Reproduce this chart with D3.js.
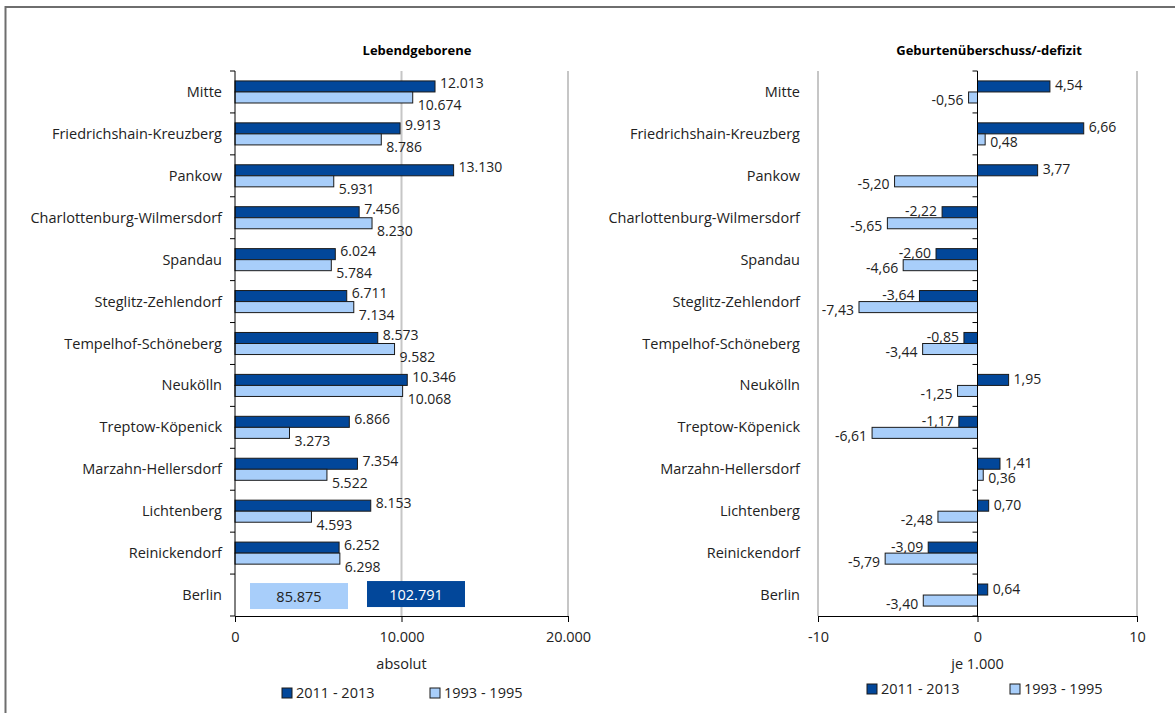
<!DOCTYPE html>
<html>
<head>
<meta charset="utf-8">
<script src="https://cdn.jsdelivr.net/npm/d3@7"></script>
<style>
  body { margin: 0; background: #fff; }
  svg { display: block; font-family: "Open Sans", sans-serif; }
</style>
</head>
<body>
<svg id="chart" width="1175" height="713"></svg>
<script>
// Bezirke, oben nach unten
const categories = ["Mitte", "Friedrichshain-Kreuzberg", "Pankow", "Charlottenburg-Wilmersdorf",
  "Spandau", "Steglitz-Zehlendorf", "Tempelhof-Schöneberg", "Neukölln", "Treptow-Köpenick",
  "Marzahn-Hellersdorf", "Lichtenberg", "Reinickendorf", "Berlin"];

const seriesNames = ["2011 - 2013", "1993 - 1995"];

// Lebendgeborene, absolut
const births2011 = [12013, 9913, 13130, 7456, 6024, 6711, 8573, 10346, 6866, 7354, 8153, 6252, 102791];
const births1993 = [10674, 8786, 5931, 8230, 5784, 7134, 9582, 10068, 3273, 5522, 4593, 6298, 85875];

// Geburtenüberschuss/-defizit, je 1.000
const balance2011 = [4.54, 6.66, 3.77, -2.22, -2.60, -3.64, -0.85, 1.95, -1.17, 1.41, 0.70, -3.09, 0.64];
const balance1993 = [-0.56, 0.48, -5.20, -5.65, -4.66, -7.43, -3.44, -1.25, -6.61, 0.36, -2.48, -5.79, -3.40];

const leftTicks = [0, 10000, 20000];
const rightTicks = [-10, 0, 10];

const DARK = "#02479a";
const LIGHT = "#a8cefa";

const de = d3.formatLocale({ decimal: ",", thousands: ".", grouping: [3], currency: ["", " €"], minus: "-" });
const fmtInt = de.format(",d");
const fmtDec = de.format(",.2f");

const svg = d3.select("#chart");

// outer frame (top + left)
svg.append("path")
  .attr("d", "M5.5,713 V7 H1175")
  .attr("fill", "none")
  .attr("stroke", "#6e6e6e")
  .attr("stroke-width", 2);

function drawPanel(opts) {
  const { x, yTop, yBottom, labelRight, title, titleX, axisTitle, values, fmt, ticks, zero, legendX } = opts;

  const y = d3.scaleBand().domain(categories).range([yTop, yBottom]);
  const ySeries = d3.scaleBand().domain([0, 1]).range([0, y.bandwidth()]).paddingOuter(0.9);
  const g = svg.append("g");

  // gray gridlines
  g.selectAll("line.grid")
    .data(opts.grid)
    .join("line")
    .attr("class", "grid")
    .attr("x1", d => x(d)).attr("x2", d => x(d))
    .attr("y1", yTop).attr("y2", yBottom)
    .attr("stroke", "#c6c6c6")
    .attr("stroke-width", 2);

  // title
  g.append("text")
    .attr("x", titleX)
    .attr("y", 55)
    .attr("text-anchor", "middle")
    .attr("font-size", 13)
    .attr("font-weight", "bold")
    .text(title);

  // category labels
  g.selectAll("text.cat")
    .data(categories)
    .join("text")
    .attr("class", "cat")
    .attr("x", labelRight)
    .attr("y", d => y(d) + y.bandwidth() / 2 + 5)
    .attr("text-anchor", "end")
    .attr("font-size", 14.5)
    .attr("fill", "#222")
    .text(d => d);

  // bars
  const nBars = opts.skipLast ? categories.length - 1 : categories.length;
  values.forEach((vals, s) => {
    const data = categories.slice(0, nBars).map((c, i) => ({ c, v: vals[i] }));
    g.selectAll("rect.s" + s)
      .data(data)
      .join("rect")
      .attr("class", "s" + s)
      .attr("x", d => x(Math.min(0, d.v)))
      .attr("y", d => y(d.c) + ySeries(s))
      .attr("width", d => Math.abs(x(d.v) - x(0)))
      .attr("height", ySeries.bandwidth())
      .attr("fill", s === 0 ? DARK : LIGHT)
      .attr("stroke", "#1a1a1a")
      .attr("stroke-width", 1);

    g.selectAll("text.l" + s)
      .data(data)
      .join("text")
      .attr("class", "l" + s)
      .attr("x", d => d.v >= 0 ? x(d.v) + 5 : x(d.v) - 5)
      .attr("y", d => y(d.c) + ySeries(s) + ySeries.bandwidth() / 2 + 5 + (s === 0 ? opts.dyDark : opts.dyLight))
      .attr("text-anchor", d => d.v >= 0 ? "start" : "end")
      .attr("font-size", 14)
      .attr("fill", "#222")
      .text(d => fmt(d.v));
  });

  // y axis line with category separator ticks
  const yAxisX = x(zero);
  g.append("line")
    .attr("x1", yAxisX).attr("x2", yAxisX)
    .attr("y1", yTop).attr("y2", yBottom)
    .attr("stroke", "#000");
  const bounds = categories.map(c => y(c)).concat([yBottom]);
  g.selectAll("line.ytick")
    .data(bounds)
    .join("line")
    .attr("class", "ytick")
    .attr("x1", yAxisX - 5).attr("x2", yAxisX)
    .attr("y1", d => d).attr("y2", d => d)
    .attr("stroke", "#000");

  // x axis
  const axis = g.append("g")
    .attr("transform", `translate(0,${yBottom})`)
    .call(d3.axisBottom(x).tickValues(ticks).tickSize(6).tickSizeOuter(0).tickPadding(10).tickFormat(opts.tickFmt));
  axis.select(".domain").attr("stroke", "#000");
  axis.selectAll(".tick line").attr("stroke", "#000");
  axis.selectAll(".tick text")
    .attr("font-size", 14.5)
    .attr("font-family", "Open Sans, sans-serif")
    .attr("fill", "#222");

  g.append("text")
    .attr("x", x(opts.axisTitleAt))
    .attr("y", 669)
    .attr("text-anchor", "middle")
    .attr("font-size", 14.5)
    .attr("fill", "#222")
    .text(axisTitle);

  // legend
  const lg = g.append("g").attr("transform", `translate(0,${opts.legendY})`);
  seriesNames.forEach((name, i) => {
    lg.append("rect")
      .attr("x", legendX[i])
      .attr("y", -10)
      .attr("width", 10)
      .attr("height", 10)
      .attr("fill", i === 0 ? DARK : LIGHT)
      .attr("stroke", "#1a1a1a");
    lg.append("text")
      .attr("x", legendX[i] + 14)
      .attr("y", 0)
      .attr("font-size", 14.5)
      .attr("fill", "#222")
      .text(name);
  });

  return { g, y, x };
}

// left panel: Lebendgeborene
const xLeft = d3.scaleLinear().domain([0, 20000]).range([235, 568]);
const left = drawPanel({
  x: xLeft, yTop: 71, yBottom: 616, labelRight: 222,
  title: "Lebendgeborene", titleX: 417, axisTitle: "absolut", axisTitleAt: 10000,
  values: [births2011, births1993], fmt: fmtInt, tickFmt: fmtInt,
  ticks: leftTicks, zero: 0, grid: [10000, 20000], skipLast: true,
  dyDark: -3, dyLight: 8, legendX: [282, 430], legendY: 698
});

// Berlin totals as boxed labels (off-scale)
const bi = categories.length - 1;
const bY = left.y(categories[bi]) + left.y.bandwidth() / 2;
const boxes = [
  { v: births1993[bi], x: xLeft(0) + 15, dy: 1, fill: LIGHT, color: "#222" },
  { v: births2011[bi], x: xLeft(0) + 132, dy: -1, fill: DARK, color: "#fff" }
];
boxes.forEach(b => {
  left.g.append("rect")
    .attr("x", b.x).attr("y", bY - 13 + b.dy)
    .attr("width", 98).attr("height", 26)
    .attr("fill", b.fill);
  left.g.append("text")
    .attr("x", b.x + 49).attr("y", bY + 6 + b.dy)
    .attr("text-anchor", "middle")
    .attr("font-size", 14.5)
    .attr("fill", b.color)
    .text(fmtInt(b.v));
});

// right panel: Geburtenüberschuss/-defizit
const xRight = d3.scaleLinear().domain([-10, 10]).range([818, 1137]);
drawPanel({
  x: xRight, yTop: 71, yBottom: 616, labelRight: 800,
  title: "Geburtenüberschuss/-defizit", titleX: 989, axisTitle: "je 1.000", axisTitleAt: 0,
  values: [balance2011, balance1993], fmt: fmtDec, tickFmt: de.format("d"),
  ticks: rightTicks, zero: 0, grid: [-10, 10], skipLast: false,
  dyDark: -1, dyLight: 3, legendX: [867, 1010], legendY: 694
});
</script>
</body>
</html>
